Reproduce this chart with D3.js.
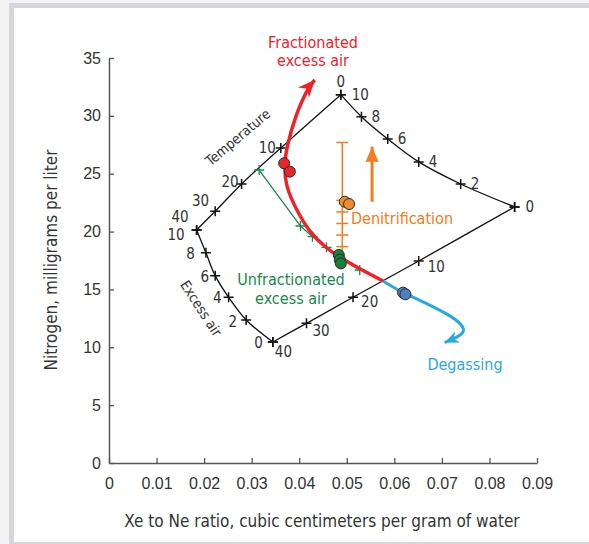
<!DOCTYPE html>
<html>
<head>
<meta charset="utf-8">
<script src="https://cdn.jsdelivr.net/npm/d3@7"></script>
<style>
  html, body { margin: 0; padding: 0; background: #f3f3f3; }
  svg { display: block; font-family: "Liberation Sans Narrow", "DejaVu Sans Condensed", "Roboto", sans-serif; }
</style>
</head>
<body>
<svg id="chart" width="589" height="544"></svg>
<script>
// Xe/Ne ratio vs nitrogen, with temperature / excess-air grid

const xTicks = [0, 0.01, 0.02, 0.03, 0.04, 0.05, 0.06, 0.07, 0.08, 0.09];
const yTicks = [0, 5, 10, 15, 20, 25, 30, 35];

// grid: temperature 0..40 C, excess air 10..0
const tempLabels = [0, 10, 20, 30, 40];
const airLabels = [10, 8, 6, 4, 2, 0];
// excess air = 10, temperature 0 -> 40
const highAirX = [0.04874, 0.03613, 0.02788, 0.02233, 0.01842];
const highAirY = [31.83, 27.23, 24.11, 21.75, 20.14];
// excess air = 0, temperature 0 -> 40
const zeroAirX = [0.08529, 0.06513, 0.05132, 0.04153, 0.03445];
const zeroAirY = [22.13, 17.46, 14.32, 12.07, 10.46];
// temperature = 0, excess air 10 -> 0
const coldX = [0.04874, 0.05309, 0.05861, 0.06513, 0.07395, 0.08529];
const coldY = [31.83, 29.93, 28.00, 26.02, 24.11, 22.13];
// temperature = 40, excess air 10 -> 0
const warmX = [0.01842, 0.02038, 0.02233, 0.02515, 0.02884, 0.03445];
const warmY = [20.14, 18.18, 16.19, 14.32, 12.36, 10.46];

// process curves
const fracX = [0.04328, 0.04181, 0.03908, 0.03739, 0.03683, 0.03718, 0.03943, 0.04223, 0.04574, 0.04853, 0.05273, 0.05763];
const fracY = [33.10, 32.43, 29.91, 27.31, 25.76, 23.85, 21.87, 19.88, 18.56, 17.76, 16.77, 15.73];
const degasX = [0.05763, 0.06176, 0.06534, 0.07164, 0.07437, 0.07479, 0.07332, 0.07059];
const degasY = [15.73, 14.69, 14.09, 12.79, 11.93, 11.32, 10.89, 10.40];
const unfracX = [0.03158, 0.04027, 0.04279, 0.04574, 0.04853, 0.05273];
const unfracY = [25.32, 20.48, 19.56, 18.64, 17.83, 16.68];
const unfracMarks = [0, 1, 2, 3, 5];
const denitX = 0.04905;
const denitTicks = [18.7, 19.7, 20.7, 21.7, 22.7, 27.7];
const denitRange = [17.7, 27.7];
const denitArrowX = 0.05532;
const denitArrowY = [22.58, 27.34];

// samples
const redX = [0.03683, 0.03803], redY = [25.90, 25.18];
const orangeX = [0.04958, 0.05048], orangeY = [22.58, 22.38];
const greenX = [0.04832, 0.04853, 0.04874], greenY = [17.98, 17.57, 17.25];
const blueX = [0.06183, 0.06233], blueY = [14.72, 14.58];

const RED = '#ee2229', ORANGE = '#f47b20', GREEN = '#16894a', BLUE = '#2aa9e0';

const svg = d3.select('#chart');

// page frame
svg.append('rect').attr('x', 9).attr('y', 3).attr('width', 600).attr('height', 560).attr('fill', '#d6d5db');
svg.append('rect').attr('x', 14).attr('y', 8).attr('width', 600).attr('height', 534).attr('fill', '#fff');

const x = d3.scaleLinear().domain([0, 0.09]).range([109, 537]);
const y = d3.scaleLinear().domain([0, 35]).range([463, 58]);

// axes
const xAxis = svg.append('g')
    .attr('transform', `translate(0,${y(0)})`)
    .call(d3.axisBottom(x).tickValues(xTicks).tickSize(-5).tickSizeOuter(0).tickPadding(15)
        .tickFormat(d => d === 0 ? '0' : d.toFixed(2)));
const yAxis = svg.append('g')
    .attr('transform', `translate(${x(0)},0)`)
    .call(d3.axisLeft(y).tickValues(yTicks).tickSize(-5).tickSizeOuter(0).tickPadding(8));
[xAxis, yAxis].forEach(a => {
    a.select('.domain').attr('stroke', '#555').attr('stroke-width', 1.5);
    a.selectAll('.tick line').attr('stroke', '#555').attr('stroke-width', 1.3);
    a.selectAll('.tick text').attr('font-size', '16px').attr('fill', '#333').attr('font-family', null);
});

svg.append('text')
    .attr('x', 322).attr('y', 527)
    .attr('text-anchor', 'middle').attr('font-size', '17px').attr('fill', '#333')
    .text('Xe to Ne ratio, cubic centimeters per gram of water');
svg.append('text')
    .attr('transform', 'translate(57,260) rotate(-90)')
    .attr('text-anchor', 'middle').attr('font-size', '17px').attr('fill', '#333')
    .text('Nitrogen, milligrams per liter');

// arrow markers
const defs = svg.append('defs');
function barbMarker(id, color, len, half) {
    defs.append('marker')
        .attr('id', id).attr('markerUnits', 'userSpaceOnUse')
        .attr('viewBox', `${-len} ${-half} ${len + 1} ${half * 2}`)
        .attr('refX', 0).attr('refY', 0)
        .attr('markerWidth', len + 1).attr('markerHeight', half * 2)
        .attr('orient', 'auto')
        .append('path')
        .attr('d', `M0,0 L${-len},${-half} L${-len * 0.7},0 L${-len},${half} Z`)
        .attr('fill', color);
}
barbMarker('arrRed', RED, 17, 7.5);
barbMarker('arrBlue', BLUE, 14, 6);
defs.append('marker')
    .attr('id', 'arrOrange').attr('markerUnits', 'userSpaceOnUse')
    .attr('viewBox', '-15 -7 16 14')
    .attr('refX', 0).attr('refY', 0)
    .attr('markerWidth', 16).attr('markerHeight', 14)
    .attr('orient', 'auto')
    .append('path').attr('d', 'M0,0 L-15,-6.5 L-15,6.5 Z').attr('fill', ORANGE);

const zip = (xs, ys) => xs.map((v, i) => [v, ys[i]]);
const line = d3.line().x(d => x(d[0])).y(d => y(d[1]));
const smooth = d3.line().x(d => x(d[0])).y(d => y(d[1])).curve(d3.curveCatmullRom.alpha(0.5));
const basis = d3.line().x(d => x(d[0])).y(d => y(d[1])).curve(d3.curveBasis);

// grid edges; label offsets per tick
const edges = [
    { pts: zip(highAirX, highAirY), labels: tempLabels, anchor: 'end',
      off: [null, [-5, 5], [-3, 3], [-6, -5], null] },
    { pts: zip(coldX, coldY), labels: airLabels, anchor: 'start',
      off: [[11, 5], [10, 5], [10, 5], [10, 5], [10, 5], [11, 5]] },
    { pts: zip(warmX, warmY), labels: airLabels, anchor: 'end',
      off: [null, [-11, 6], [-6, 6], [-7, 6], [-9, 7], [-10, 6]] },
    { pts: zip(zeroAirX, zeroAirY), labels: tempLabels, anchor: 'start',
      off: [null, [9, 11], [8, 10], [6, 13], null] },
];
const grid = svg.append('g');
edges.forEach(e => {
    grid.append('path').attr('d', smooth(e.pts)).attr('fill', 'none')
        .attr('stroke', '#111').attr('stroke-width', 1.3);
});
function cross(g, p, r, color, w) {
    g.append('path')
        .attr('d', `M${x(p[0]) - r},${y(p[1])}h${2 * r}M${x(p[0])},${y(p[1]) - r}v${2 * r}`)
        .attr('stroke', color).attr('stroke-width', w);
}
edges.forEach(e => e.pts.forEach(p => cross(grid, p, 5, '#111', 1.5)));

const gl = svg.append('g').attr('font-size', '15px').attr('fill', '#333');
edges.forEach(e => {
    e.pts.forEach((p, i) => {
        if (!e.off[i]) return;
        gl.append('text')
            .attr('x', x(p[0]) + e.off[i][0]).attr('y', y(p[1]) + e.off[i][1])
            .attr('text-anchor', e.anchor).text(e.labels[i]);
    });
});
// corner labels
const top0 = [highAirX[0], highAirY[0]];
gl.append('text').attr('x', x(top0[0])).attr('y', y(top0[1]) - 8).attr('text-anchor', 'middle').text(tempLabels[0]);
const left = [highAirX[4], highAirY[4]];
gl.append('text').attr('x', x(left[0]) - 8).attr('y', y(left[1]) - 8).attr('text-anchor', 'end').text(tempLabels[4]);
gl.append('text').attr('x', x(left[0]) - 12).attr('y', y(left[1]) + 10).attr('text-anchor', 'end').text(airLabels[0]);
gl.append('text').attr('x', x(zeroAirX[4]) + 2).attr('y', y(zeroAirY[4]) + 15).attr('text-anchor', 'start').text(tempLabels[4]);

gl.append('text').attr('transform', 'translate(241,141) rotate(-40)')
    .attr('text-anchor', 'middle').attr('font-size', '14px').text('Temperature');
gl.append('text').attr('transform', 'translate(197,311) rotate(57)')
    .attr('text-anchor', 'middle').attr('font-size', '14px').text('Excess air');

// unfractionated excess air
const unfrac = zip(unfracX, unfracY);
svg.append('path').attr('d', line(unfrac)).attr('fill', 'none').attr('stroke', GREEN).attr('stroke-width', 1.3);
unfracMarks.forEach(i => cross(svg, unfrac[i], 5, GREEN, 1.3));

// denitrification
svg.append('path').attr('d', line([[denitX, denitRange[0]], [denitX, denitRange[1]]]))
    .attr('stroke', ORANGE).attr('stroke-width', 1.5);
denitTicks.forEach(t => {
    svg.append('path').attr('d', `M${x(denitX) - 6},${y(t)}h12`).attr('stroke', ORANGE).attr('stroke-width', 1.5);
});
svg.append('path').attr('d', line([[denitArrowX, denitArrowY[0]], [denitArrowX, denitArrowY[1]]]))
    .attr('stroke', ORANGE).attr('stroke-width', 3).attr('marker-end', 'url(#arrOrange)');

// fractionated & degassing curves
svg.append('path').attr('d', basis(zip(degasX, degasY))).attr('fill', 'none')
    .attr('stroke', BLUE).attr('stroke-width', 3).attr('marker-end', 'url(#arrBlue)');
svg.append('path').attr('d', basis(zip(fracX, fracY).reverse())).attr('fill', 'none')
    .attr('stroke', RED).attr('stroke-width', 3.5).attr('marker-end', 'url(#arrRed)');

// samples
function dots(xs, ys, fill) {
    svg.append('g').selectAll('circle').data(zip(xs, ys)).join('circle')
        .attr('cx', d => x(d[0])).attr('cy', d => y(d[1])).attr('r', 5.5)
        .attr('fill', fill).attr('stroke', '#2a2a2a').attr('stroke-width', 1);
}
dots(redX, redY, '#e8262c');
dots(orangeX, orangeY, '#f28a2e');
dots(greenX, greenY, '#1c7d3c');
dots(blueX, blueY, '#4f7fc0');

// annotations
const ann = svg.append('g').attr('font-size', '16px').attr('text-anchor', 'middle');
ann.append('text').attr('x', 313).attr('y', 48).attr('fill', RED).text('Fractionated');
ann.append('text').attr('x', 313).attr('y', 66).attr('fill', RED).text('excess air');
ann.append('text').attr('x', 402).attr('y', 224).attr('fill', ORANGE).text('Denitrification');
ann.append('text').attr('x', 291).attr('y', 285).attr('fill', GREEN).text('Unfractionated');
ann.append('text').attr('x', 291).attr('y', 304).attr('fill', GREEN).text('excess air');
ann.append('text').attr('x', 465).attr('y', 370).attr('fill', BLUE).text('Degassing');
</script>
</body>
</html>
